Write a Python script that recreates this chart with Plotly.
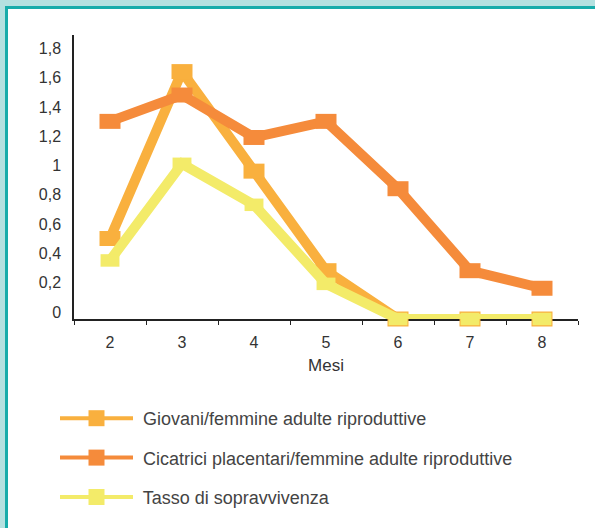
import plotly.graph_objects as go

# data
mesi = ['2', '3', '4', '5', '6', '7', '8']
giovani = [0.55, 1.69, 1.01, 0.33, 0.0, 0.0, 0.0]
cicatrici = [1.35, 1.53, 1.24, 1.35, 0.89, 0.33, 0.21]
tasso = [0.40, 1.06, 0.78, 0.24, 0.0, 0.0, 0.0]
y_ticks = [0, 0.2, 0.4, 0.6, 0.8, 1.0, 1.2, 1.4, 1.6, 1.8]
y_labels = ['0', '0,2', '0,4', '0,6', '0,8', '1', '1,2', '1,4', '1,6', '1,8']

series = [
    ('Giovani/femmine adulte riproduttive', giovani, '#f9b03e', 15, 15),
    ('Cicatrici placentari/femmine adulte riproduttive', cicatrici, '#f58b3b', 15, 15),
    ('Tasso di sopravvivenza', tasso, '#f3eb69', 13.5, 12.5),
]

W, H = 595, 528
L, R, T, B = 74, 17, 35, 209


def px_x(p):
    return (p - L) / (W - L - R)


def px_y(p):
    return (H - B - p) / (H - T - B)


fig = go.Figure()

for name, vals, col, msize, mthick in series:
    # wide flat squares: a horizontal line marker drawn thick
    fig.add_trace(go.Scatter(
        x=mesi, y=vals, mode='lines+markers', name=name, showlegend=False,
        line=dict(color=col, width=10),
        marker=dict(symbol='line-ew', size=msize, color=col,
                    line=dict(color=col, width=mthick)),
        cliponaxis=False, hoverinfo='skip',
    ))

for i, (name, vals, col, msize, mthick) in enumerate(series):
    fig.add_trace(go.Scatter(
        x=[None], y=[None], mode='lines+markers', name=' ' + name,
        legendgroup=str(i),
        line=dict(color=col, width=4),
        marker=dict(symbol='square', size=19, color=col),
    ))

fig.add_shape(type='rect', xref='paper', yref='paper',
              x0=px_x(6.5), x1=px_x(610), y0=px_y(7.5), y1=px_y(545),
              line=dict(color='#17acaa', width=3), fillcolor='white',
              layer='below')

fig.update_layout(
    width=W, height=H,
    margin=dict(l=L, r=R, t=T, b=B, autoexpand=False),
    paper_bgcolor='#b4e1e0',
    plot_bgcolor='rgba(0,0,0,0)',
    font=dict(family='Liberation Sans, Arial, sans-serif', size=16, color='#333333'),
    xaxis=dict(
        type='category', range=[-0.5, 6.5], tickson='boundaries',
        showline=True, linecolor='#222222', linewidth=1.5,
        ticks='outside', ticklen=4, tickcolor='#222222', tickwidth=1,
        showgrid=False, zeroline=False, ticklabelstandoff=8,
        layer='below traces',
        title=dict(text='Mesi', font=dict(size=17), standoff=9),
    ),
    yaxis=dict(
        range=[0, 1.94], tickvals=y_ticks, ticktext=y_labels,
        showline=True, linecolor='#222222', linewidth=1.5,
        ticks='', showgrid=False, zeroline=False,
        ticklabelshift=-7, ticklabelstandoff=8,
        layer='below traces',
    ),
    legend=dict(
        x=px_x(55), y=px_y(400), xanchor='left', yanchor='top',
        font=dict(size=18, color='#444444'), bgcolor='rgba(0,0,0,0)',
        itemwidth=73, tracegroupgap=13, itemsizing='trace',
        traceorder='grouped',
    ),
)

fig.write_html('out.html', config={'displayModeBar': False},
               post_script="document.body.style.margin='0';")
